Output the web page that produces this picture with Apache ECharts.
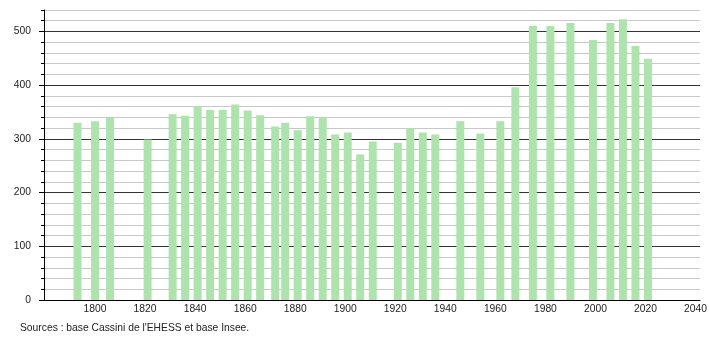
<!DOCTYPE html>
<html><head><meta charset="utf-8">
<script src="https://cdn.jsdelivr.net/npm/echarts@6/dist/echarts.min.js"></script>
<style>html,body{margin:0;padding:0;background:#fff}#c{width:710px;height:340px}</style>
</head><body><div id="c"></div>
<script>
var years = [1793,1800,1806,1821,1831,1836,1841,1846,1851,1856,1861,1866,1872,1876,1881,1886,1891,1896,1901,1906,1911,1921,1926,1931,1936,1946,1954,1962,1968,1975,1982,1990,1999,2006,2011,2016,2021];
var population = [330,333,339,299,346,343,361,354,354,364,353,344,323,330,316,342,340,308,312,271,295,293,320,312,308,333,310,333,396,510,510,516,484,516,523,473,449];
var yMajorTicks = [0,100,200,300,400,500];
var xTickLabels = [1800,1820,1840,1860,1880,1900,1920,1940,1960,1980,2000,2020,2040];
var sourceText = "Sources : base Cassini de l'EHESS et base Insee.";

var font = 'Liberation Sans';
var chart = echarts.init(document.getElementById('c'), null, {renderer:'canvas'});
chart.setOption({
  animation:false,
  backgroundColor:'#fff',
  grid:{left:44,right:10,top:10,bottom:40,containLabel:false},
  graphic:[{type:'text',left:20,top:323,style:{text:sourceText,font:'10.3px "Liberation Sans"',fill:'#222'}}],
  xAxis:{type:'value',min:1779.6,max:2041.8,
    axisLine:{show:true,lineStyle:{color:'#000',width:1}},
    axisTick:{show:false},splitLine:{show:false},
    axisLabel:{color:'#222',fontFamily:font,fontSize:10.3,margin:4,customValues:xTickLabels,
      formatter:function(v){return String(Math.round(v));}}},
  yAxis:[{type:'value',min:0,max:540,interval:20,
    axisLine:{show:true,lineStyle:{color:'#000',width:1}},
    axisTick:{show:true,length:3,lineStyle:{color:'#000'}},
    splitLine:{show:true,lineStyle:{color:['#333','#c8c8c8','#c8c8c8','#c8c8c8','#c8c8c8'],width:1}},
    axisLabel:{color:'#222',fontFamily:font,fontSize:10.3,margin:13,
      formatter:function(v){return yMajorTicks.indexOf(v)>=0?String(v):'';}}},
    {type:'value',min:0,max:540,position:'left',
    axisLine:{show:false},splitLine:{show:false},axisLabel:{show:false},
    axisTick:{show:true,length:5,customValues:yMajorTicks,lineStyle:{color:'#000'}}}],
  series:[{type:'bar',yAxisIndex:0,barWidth:8,
    itemStyle:{color:'#aee3ae'},
    data:years.map(function(y,i){return [y,population[i]];})}]
});
</script></body></html>
